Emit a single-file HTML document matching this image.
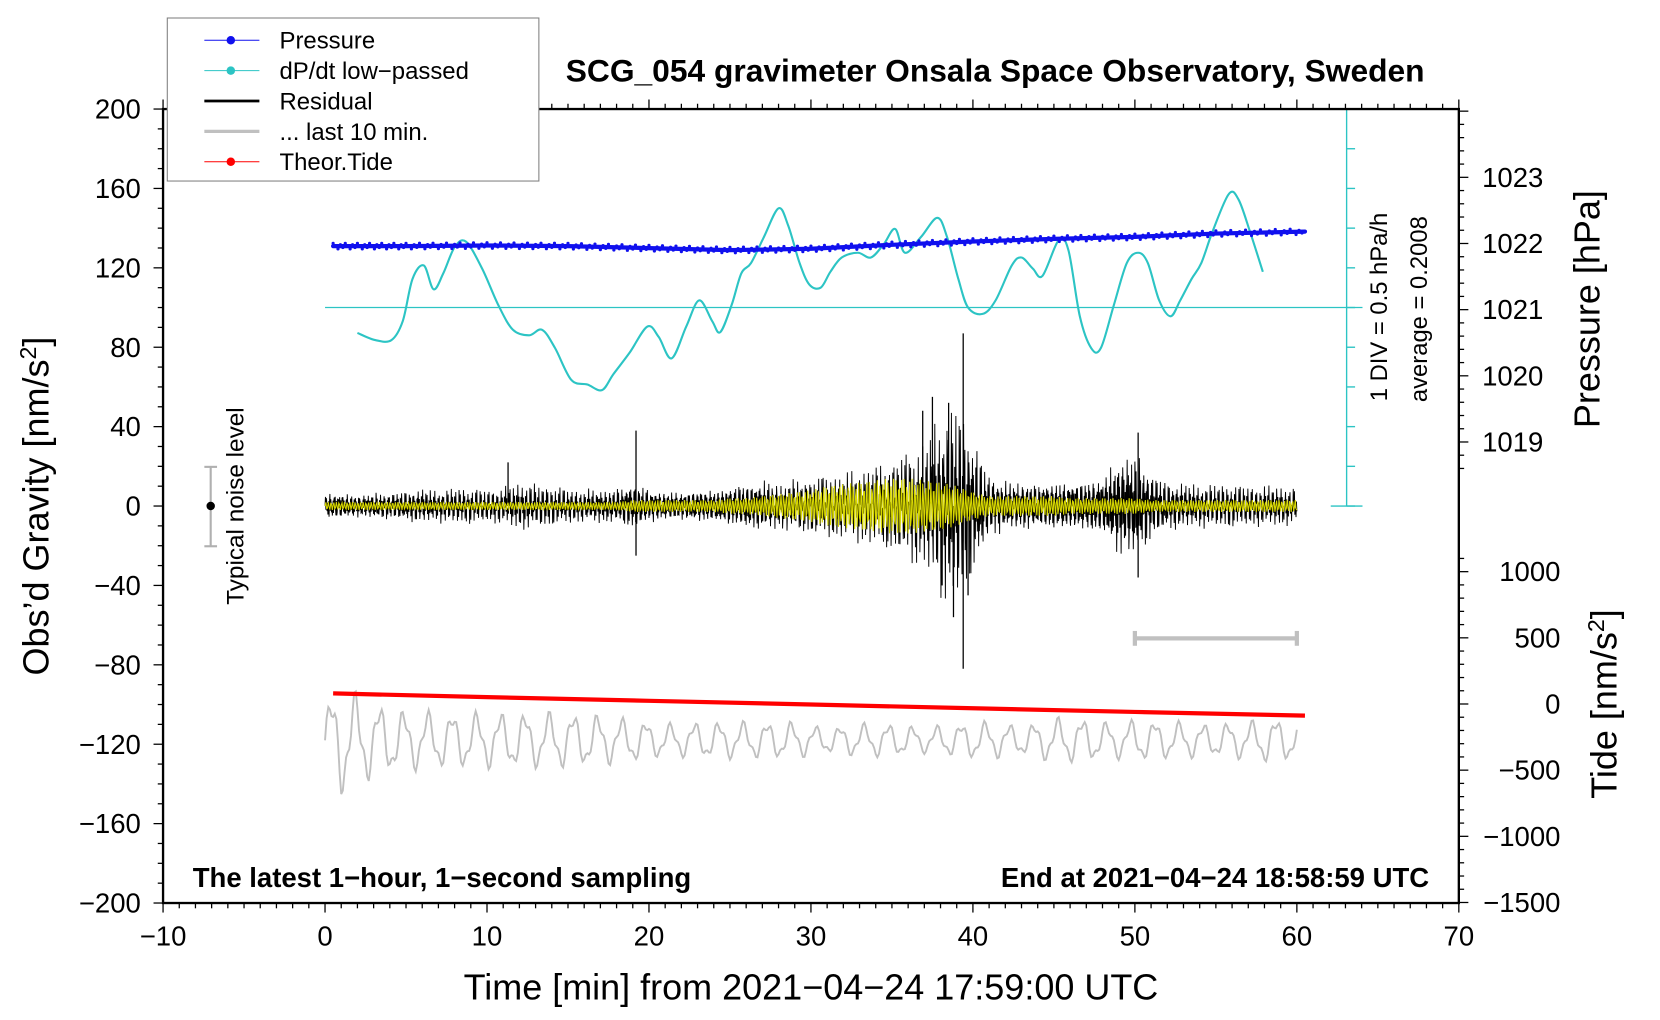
<!DOCTYPE html>
<html><head><meta charset="utf-8"><style>
html,body{margin:0;padding:0;background:#fff;}
svg{display:block;font-family:"Liberation Sans",sans-serif;}
</style></head><body>
<svg id="c" width="1660" height="1020" viewBox="0 0 1568 963.5"></svg>
<script>
// ---- data ----
const xTicks=[-10,0,10,20,30,40,50,60,70];
const gTicks=[200,160,120,80,40,0,-40,-80,-120,-160,-200];
const pTicks=[1023,1022,1021,1020,1019];
const tTicks=[1000,500,0,-500,-1000,-1500];
const presMin=[0.5,5,10,15,20,25,30,35,40,45,50,55,60.5];
const presVal=[1021.96,1021.96,1021.97,1021.96,1021.93,1021.9,1021.92,1021.98,1022.03,1022.07,1022.1,1022.15,1022.18];
const dpMin=[2.0,3.1,4.1,4.8,5.4,6.1,6.7,7.3,8.0,8.7,9.7,10.7,11.6,12.6,13.4,14.2,15.2,16.2,17.1,17.8,18.8,19.9,20.6,21.4,22.3,23.1,23.9,24.4,25.1,25.7,26.3,27.1,28.0,28.6,29.3,29.9,30.6,31.2,31.9,32.9,33.7,34.5,35.2,35.8,36.8,37.8,38.4,39.1,39.7,40.6,41.4,42.4,43.0,43.7,44.3,45.3,45.9,46.6,47.3,47.9,48.7,49.5,50.2,50.8,51.5,52.2,52.8,53.5,54.1,54.8,55.8,56.4,57.1,57.9];
const dpVal=[-0.32,-0.41,-0.41,-0.17,0.36,0.53,0.23,0.43,0.76,0.83,0.49,0.03,-0.28,-0.35,-0.28,-0.51,-0.91,-0.97,-1.04,-0.84,-0.57,-0.24,-0.37,-0.64,-0.24,0.09,-0.17,-0.31,0.03,0.43,0.56,0.89,1.25,1.03,0.56,0.29,0.25,0.45,0.63,0.69,0.63,0.80,0.99,0.69,0.89,1.13,0.89,0.36,0,-0.08,0.09,0.53,0.63,0.49,0.40,0.85,0.72,-0.11,-0.51,-0.51,0.03,0.56,0.69,0.56,0.09,-0.11,0.09,0.36,0.56,0.96,1.43,1.36,0.96,0.45];
const resEnv=[8,8,7,8,8,9,10,9,10,10,9,10,13,12,11,10,9,10,10,14,10,9,9,10,10,12,14,15,14,15,16,18,18,20,22,25,30,35,50,60,40,18,15,15,14,15,15,16,18,30,32,20,14,13,12,12,12,11,11,11,10];
const yelEnv=[2,2,2,2,2,2,2,2,2,2,2,2,2,2,2,2,2,2,2,3,3,3,3,3,3,4,4,5,6,7,8,10,11,12,13,14,14,13,12,10,7,5,5,5,5,5,4,4,4,4,4,3,3,3,3,3,3,3,3,3,3];
const spikeMin=[11.3,19.2,19.2,36.9,37.5,38.1,38.5,38.8,39.4,39.4,39.7,50.2,50.2];
const spikeVal=[22,38,-25,48,55,-40,52,-56,87,-82,-45,37,-36];
const greyEnv=[20,30,25,20,18,16,16,15,15,15,15,15,15,15,15,15,14,14,12,12,10,9,9,10,10,10,10,10,10,10,8,7,8,9,9,9,8,7,8,9,10,10,9,8,10,12,12,12,10,10,11,11,10,10,9,9,10,10,12,12,10];
const greyCenter=-118;
const tideMin=[0.5,10,20,30,40,50,60.5];
const tideVal=[80,52,24,-4,-32,-60,-88];

// ---- scales ----
const X=m=>307+m*15.3, YG=g=>478-g*1.875, YP=p=>230-(p-1022)*62.5, YT=t=>665-t*0.125;
const svg=document.getElementById('c');
const NS='http://www.w3.org/2000/svg';
function el(tag,at,parent){const e=document.createElementNS(NS,tag);for(const k in at)e.setAttribute(k,at[k]);(parent||svg).appendChild(e);return e;}
function txt(s,at){const e=el('text',at);e.textContent=s;return e;}
function envAt(a,m){m=Math.max(0,Math.min(60,m));const i=Math.floor(m),f=m-i;return a[i]*(1-f)+(a[Math.min(60,i+1)])*f;}

let e=el('line',{x1:307,y1:YG(100),x2:1287,y2:YG(100),stroke:'#2cc4c4','stroke-width':1.2});


const sb=el('g',{stroke:'#2cc4c4','stroke-width':1.3});


el('line',{x1:1272,y1:103,x2:1272,y2:478},sb);
for(let k=0;k<=10;k++){const y=103+k*37.5;el('line',{x1:1272,y1:y,x2:1280,y2:y},sb);}
el('line',{x1:1257,y1:103,x2:1287,y2:103},sb);
el('line',{x1:1257,y1:478,x2:1287,y2:478},sb);

{let pts=dpMin.map((m,i)=>[X(m),YG(100+40*dpVal[i])]);let d='M'+pts[0];
for(let i=0;i<pts.length-1;i++){const p0=pts[Math.max(0,i-1)],p1=pts[i],p2=pts[i+1],p3=pts[Math.min(pts.length-1,i+2)];
d+=` C${p1[0]+(p2[0]-p0[0])/6},${p1[1]+(p2[1]-p0[1])/6} ${p2[0]-(p3[0]-p1[0])/6},${p2[1]-(p3[1]-p1[1])/6} ${p2[0]},${p2[1]}`;}
e=el('path',{d:d,fill:'none',stroke:'#2cc4c4','stroke-width':2});

}

{let d=presMin.map((m,i)=>(i?'L':'M')+X(m)+','+YP(presVal[i])).join('');
e=el('path',{d:d,fill:'none',stroke:'#1010ee','stroke-width':4,'stroke-linecap':'round'});


const pg=el('g',{fill:'#1010ee'});


for(let i=0;i<presMin.length-1;i++){for(let k=0;k<30;k++){const f=k/30,m=presMin[i]+(presMin[i+1]-presMin[i])*f;const p=presVal[i]+(presVal[i+1]-presVal[i])*f;
el('circle',{cx:X(m),cy:YP(p)+((k*7)%5-2)*1.3,r:1.5},pg);}}}

{let d='';const N=2400;for(let i=0;i<=N;i++){const m=60*i/N;const w=Math.sin(i*2.3)*0.5+Math.sin(i*0.61)*0.3+Math.sin(i*0.137)*0.2*Math.sin(i*1.73);d+=(i?'L':'M')+X(m).toFixed(1)+','+YG(envAt(resEnv,m)*w).toFixed(1);}
e=el('path',{d:d,fill:'none',stroke:'#000','stroke-width':0.9});


const sg=el('g',{stroke:'#000','stroke-width':1.2});


spikeMin.forEach((m,i)=>el('line',{x1:X(m),y1:YG(0),x2:X(m),y2:YG(spikeVal[i])},sg));}
{let d='';const N=1200;for(let i=0;i<=N;i++){const m=60*i/N;const w=Math.sin(i*1.9);d+=(i?'L':'M')+X(m).toFixed(1)+','+YG(envAt(yelEnv,m)*w).toFixed(1);}
e=el('path',{d:d,fill:'none',stroke:'#d8d800','stroke-width':1});

}
{let d='';const N=600;for(let i=0;i<=N;i++){const m=60*i/N;const w=Math.sin(i*0.42)*0.75+Math.sin(i*1.1)*0.25;d+=(i?'L':'M')+X(m).toFixed(1)+','+YG(greyCenter+envAt(greyEnv,m)*w).toFixed(1);}
e=el('path',{d:d,fill:'none',stroke:'#c0c0c0','stroke-width':1.8});

}
{let d=tideMin.map((m,i)=>(i?'L':'M')+X(m)+','+YT(tideVal[i])).join('');
e=el('path',{d:d,fill:'none',stroke:'#ff0000','stroke-width':4});

}

{const g=el('g',{stroke:'#c0c0c0','stroke-width':4});


el('line',{x1:X(50),y1:603,x2:X(60),y2:603},g);el('line',{x1:X(50),y1:596,x2:X(50),y2:610},g);el('line',{x1:X(60),y1:596,x2:X(60),y2:610},g);}
{const g=el('g',{stroke:'#b0b0b0','stroke-width':2});


el('line',{x1:199,y1:441,x2:199,y2:516},g);el('line',{x1:193,y1:441,x2:205,y2:441},g);el('line',{x1:193,y1:516,x2:205,y2:516},g);
el('circle',{cx:199,cy:478,r:4,fill:'#000',stroke:'none'},g);
e=txt('Typical noise level',{x:0,y:0,'font-size':23,'text-anchor':'middle',transform:'translate(230,478) rotate(-90)'});

}

e=el('rect',{x:154,y:103,width:1224,height:750,fill:'none',stroke:'#000','stroke-width':2.2});


const tk=el('g',{stroke:'#000','stroke-width':1.2});


for(let m=-10;m<=70;m++){const L=m%10===0?9:5;el('line',{x1:X(m),y1:853,x2:X(m),y2:853+L},tk);el('line',{x1:X(m),y1:103,x2:X(m),y2:103-L},tk);}
for(let g=-200;g<=200;g+=10){const L=g%40===0?9:5;el('line',{x1:154,y1:YG(g),x2:154-L,y2:YG(g)},tk);}
for(let p=1018.6;p<=1024.01;p+=0.2){const y=YP(p);if(y<103||y>478)continue;const L=Math.abs(p-Math.round(p))<0.01?9:5;el('line',{x1:1378,y1:y,x2:1378+L,y2:y},tk);}
for(let t=-1500;t<=1100;t+=100){const y=YT(t);if(y<510)continue;const L=t%500===0?9:5;el('line',{x1:1378,y1:y,x2:1378+L,y2:y},tk);}
xTicks.forEach(v=>{e=txt(v<0?'\u2212'+(-v):v,{x:X(v),y:893,'font-size':26,'text-anchor':'middle'});

});
gTicks.forEach(v=>{e=txt(v<0?'\u2212'+(-v):v,{x:133,y:YG(v)+9,'font-size':26,'text-anchor':'end'});

});
pTicks.forEach(v=>{e=txt(v,{x:1400,y:YP(v)+9,'font-size':26});

});
tTicks.forEach(v=>{e=txt(v<0?'\u2212'+(-v):v,{x:1474,y:YT(v)+9,'font-size':26,'text-anchor':'end'});

});

e=txt('SCG_054 gravimeter Onsala Space Observatory, Sweden',{x:940,y:77,'font-size':30,'font-weight':'bold','text-anchor':'middle'});


e=txt('Time [min] from 2021\u221204\u221224 17:59:00 UTC',{x:766,y:944,'font-size':34,'text-anchor':'middle'});


e=el('text',{'font-size':34,'text-anchor':'middle',transform:'translate(46,478) rotate(-90)'});
e.innerHTML='Obs\u2019d Gravity [nm/s<tspan dy="-12" font-size="22">2</tspan><tspan dy="12">]</tspan>';


e=txt('Pressure [hPa]',{'font-size':34,'text-anchor':'middle',transform:'translate(1511,292) rotate(-90)'});


e=el('text',{'font-size':34,'text-anchor':'middle',transform:'translate(1527,665) rotate(-90)'});
e.innerHTML='Tide [nm/s<tspan dy="-12" font-size="22">2</tspan><tspan dy="12">]</tspan>';


e=txt('1 DIV = 0.5 hPa/h',{'font-size':22.5,'text-anchor':'middle',transform:'translate(1310,290) rotate(-90)'});


e=txt('average = 0.2008',{'font-size':22.5,'text-anchor':'middle',transform:'translate(1348,292) rotate(-90)'});


e=txt('The latest 1\u2212hour, 1\u2212second sampling',{x:182,y:838,'font-size':26,'font-weight':'bold'});


e=txt('End at 2021\u221204\u221224 18:58:59 UTC',{x:1350,y:838,'font-size':26,'font-weight':'bold','text-anchor':'end'});



{const lg=el('g',{});


el('rect',{x:158,y:17,width:351,height:154,fill:'#fff',stroke:'#808080','stroke-width':1},lg);
const items=[['Pressure','#1010ee',1,true],['dP/dt low\u2212passed','#2cc4c4',1,true],['Residual','#000',2.5,false],['... last 10 min.','#c0c0c0',3,false],['Theor.Tide','#ff0000',1,true]];
items.forEach((it,i)=>{const y=38+i*28.7;const g=el('g',{},lg);


el('line',{x1:193,y1:y,x2:245,y2:y,stroke:it[1],'stroke-width':it[2]},g);
if(it[3])el('circle',{cx:218,cy:y,r:4,fill:it[1]},g);
const t=el('text',{x:264,y:y+8,'font-size':22.6},g);t.textContent=it[0];});}
</script>
</body></html>
